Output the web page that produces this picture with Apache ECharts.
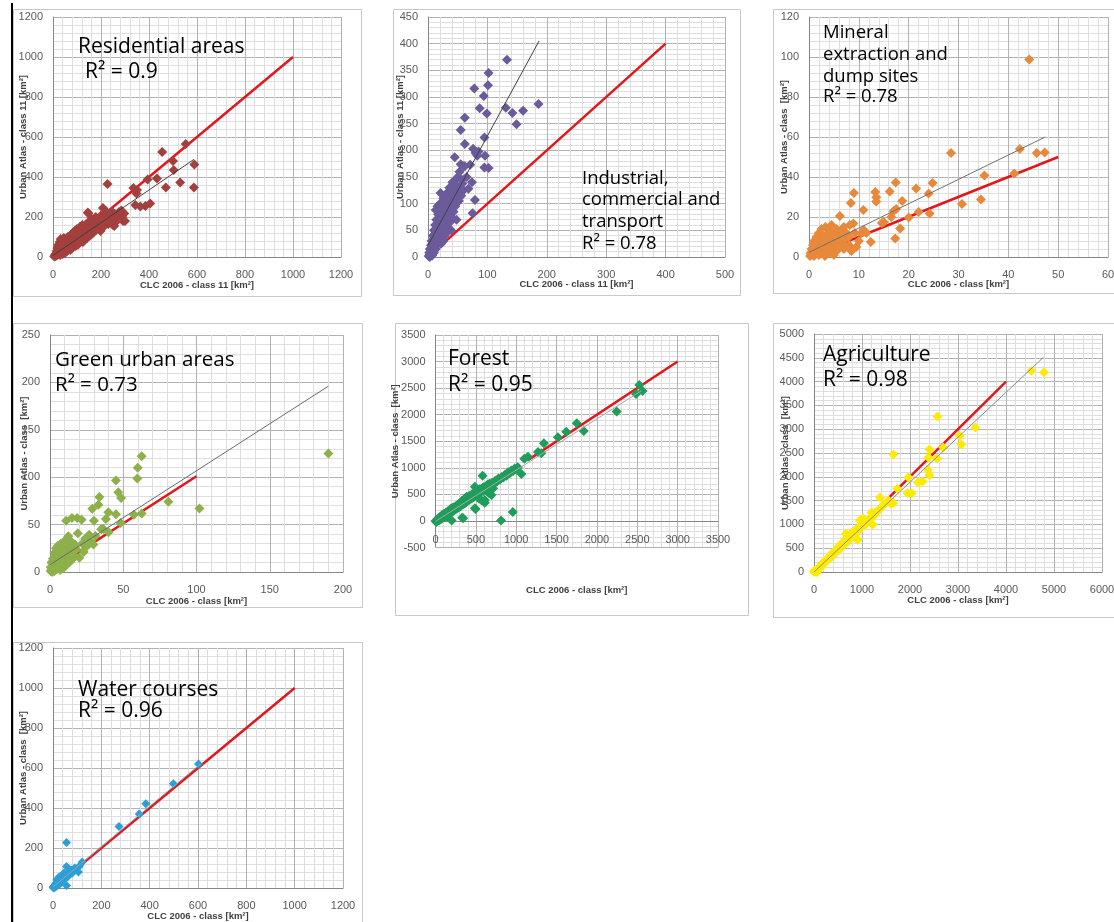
<!DOCTYPE html>
<html><head><meta charset="utf-8">
<script src="https://cdn.jsdelivr.net/npm/echarts@6/dist/echarts.min.js"></script>
<style>html,body{margin:0;padding:0;background:#fff}#c{width:1114px;height:922px}</style>
</head><body><div id="c"></div>
<script>
// ---------------- DATA ----------------
const panelTitles = [
  ['Residential areas'],
  ['Industrial,', 'commercial and', 'transport'],
  ['Mineral', 'extraction and', 'dump sites'],
  ['Green urban areas'],
  ['Forest'],
  ['Agriculture'],
  ['Water courses']
];
const r2Values = ['0.9', '0.78', '0.78', '0.73', '0.95', '0.98', '0.96'];
const xNames = ['CLC 2006 - class 11 [km²]', 'CLC 2006 - class 11 [km²]', 'CLC 2006 - class [km²]', 'CLC 2006 - class [km²]', 'CLC 2006 - class [km²]', 'CLC 2006 - class [km²]', 'CLC 2006 - class [km²]'];
const yNames = ['Urban Atlas - class 11 [km²]', 'Urban Atlas - class 11 [km²]', 'Urban Atlas - class  [km²]', 'Urban Atlas - class  [km²]', 'Urban Atlas - class  [km²]', 'Urban Atlas - class  [km²]', 'Urban Atlas - class  [km²]'];
// [min, max, interval]
const xTicks = [[0, 1200, 200], [0, 500, 100], [0, 60, 10], [0, 200, 50], [0, 3500, 500], [0, 6000, 1000], [0, 1200, 200]];
const yTicks = [[0, 1200, 200], [0, 450, 50], [0, 120, 20], [0, 250, 50], [-500, 3500, 500], [0, 5000, 500], [0, 1200, 200]];

const residential = [[5,3],[8,10],[10,5],[12,18],[15,8],[15,30],[18,45],[20,12],[20,25],[22,60],[25,18],[25,40],[28,75],[30,10],[30,30],[30,55],[32,90],[35,22],[35,45],[38,65],[40,15],[40,35],[40,80],[42,55],[45,28],[45,95],[48,42],[50,20],[50,60],[50,75],[52,35],[55,50],[55,88],[58,30],[60,45],[60,70],[62,100],[65,40],[65,58],[68,80],[70,50],[70,92],[72,35],[75,65],[75,110],[78,55],[80,45],[80,85],[82,120],[85,70],[88,60],[90,95],[90,130],[92,75],[95,55],[95,110],[98,85],[100,70],[100,140],[102,100],[105,62],[105,120],[108,90],[110,78],[112,150],[115,105],[118,85],[120,130],[120,95],[122,160],[125,75],[125,115],[128,140],[130,100],[132,88],[135,125],[138,165],[140,110],[142,95],[145,140],[148,218],[145,223],[150,120],[150,175],[152,105],[155,150],[158,130],[160,190],[162,115],[165,160],[168,140],[170,125],[172,180],[175,150],[178,200],[180,135],[182,170],[185,155],[188,190],[190,145],[195,175],[198,130],[200,160],[202,210],[205,185],[208,245],[210,150],[215,200],[218,175],[220,230],[225,195],[227,365],[230,165],[232,215],[238,185],[240,205],[245,228],[250,160],[253,190],[255,155],[258,215],[262,175],[268,210],[275,225],[280,195],[285,232],[288,200],[292,180],[297,218],[300,180],[335,345],[343,260],[350,335],[348,318],[364,252],[385,255],[394,388],[405,268],[433,393],[455,525],[470,348],[500,480],[503,435],[530,373],[553,565],[587,348],[589,463]];

const industrial = [[1,2],[2,8],[3,0],[3,15],[4,5],[5,22],[5,10],[6,30],[7,3],[7,18],[8,40],[8,12],[9,25],[10,50],[10,8],[10,33],[11,20],[12,60],[12,42],[13,15],[13,88],[14,30],[14,70],[15,52],[15,22],[16,95],[16,40],[17,80],[17,62],[18,28],[18,48],[19,90],[20,35],[20,70],[20,100],[21,120],[22,55],[22,25],[23,82],[24,45],[24,65],[25,92],[26,30],[26,110],[27,55],[28,75],[28,40],[29,100],[30,62],[30,85],[31,45],[32,120],[32,70],[33,95],[34,55],[35,80],[35,105],[36,130],[37,65],[38,90],[38,115],[39,50],[40,100],[40,75],[41,140],[42,120],[43,85],[44,105],[45,187],[45,135],[46,95],[47,145],[48,115],[48,70],[50,125],[50,150],[52,105],[53,160],[54,130],[55,174],[55,238],[56,115],[57,145],[58,138],[60,125],[60,170],[62,261],[62,212],[62,170],[65,150],[68,128],[71,173],[74,140],[75,82],[76,203],[78,316],[79,107],[80,195],[83,190],[85,198],[87,279],[94,302],[95,224],[95,168],[96,190],[99,269],[101,322],[102,345],[102,167],[131,280],[133,370],[142,270],[149,249],[160,274],[186,287]];

const mineral = [[0.2,0.5],[0.3,2],[0.5,4],[0.5,1],[0.8,6],[1,0.5],[1,3],[1,8],[1.2,5],[1.5,2],[1.5,10],[1.8,6],[2,1],[2,4],[2,12],[2.2,8],[2.5,2],[2.5,14],[2.8,6],[3,3],[3,10],[3.2,0.5],[3.3,15],[3.5,5],[3.5,8],[3.8,12],[4,2],[4,6],[4,14],[4.2,10],[4.5,4],[4.5,16],[4.8,8],[5,1],[5,12],[5.2,6],[5.5,3],[5.5,14],[5.8,9],[6,5],[6,11],[6.2,20.5],[6.5,7],[6.5,13],[7,4],[7,15],[7.2,9],[7.5,12],[8,6],[8,10],[8.2,16],[8.4,27],[8.5,3],[9,32],[8.9,16.8],[9.2,12],[9.5,5],[10,8],[10.5,12],[10.9,23.5],[11,13.5],[11.5,12],[12.4,7.5],[13.3,32.5],[13.5,27.7],[13.5,29.9],[14.6,17],[15,17.5],[16.2,32.7],[16.5,20],[17,23],[17.3,9.2],[17.4,37.3],[17.5,24],[18.3,14.3],[18.7,28],[20,19.8],[21.5,34.3],[22,22.5],[24,31.8],[24.2,21.8],[24.8,37],[28.5,52],[30.7,26.5],[34.5,28.8],[35.2,40.7],[41.2,41.7],[42.3,54],[44.2,98.8],[45.7,52],[47.3,52.3]];

const greenUrban = [[0.5,1],[0.5,5],[1,2],[1,10],[1.5,0],[2,4],[2,14],[2.5,7],[3,1],[3,10],[3,20],[3.5,5],[4,15],[4,25],[4.5,3],[5,8],[5,18],[5.5,28],[6,5],[6,12],[6.5,22],[7,2],[7,16],[7.5,30],[8,9],[8,20],[8.5,13],[9,25],[9,4],[9.5,32],[10,11],[10,18],[10.5,27],[11,7],[11,22],[11,54],[11.5,35],[12,14],[12.5,37.6],[12,28],[13,10],[13,20],[14,25],[14,33],[15,13],[15,57],[16,18],[17,29],[18,24],[18.5,57],[19,41],[20,15],[21.6,55],[22,30],[23,21],[24,35],[25,27],[26.8,39.4],[28,32],[28.9,66.6],[29.6,28.9],[30,54],[31,38],[33,71],[33.7,79],[35,45],[36.4,45.4],[38.2,56],[39.8,63],[40,42],[45,61],[45,96.5],[46.6,84],[48.2,51.8],[48.5,78],[57.3,60.5],[59.6,98.6],[59.9,110],[62.6,122],[62.6,61.6],[80.8,74],[102,67],[190,125]];

const forest = [[0,0],[10,-20],[20,30],[30,10],[40,60],[50,20],[60,80],[70,40],[80,110],[90,60],[100,130],[110,70],[120,100],[130,160],[140,90],[150,180],[160,120],[170,200],[180,140],[190,230],[200,10],[200,170],[210,250],[220,190],[230,260],[240,210],[250,280],[260,230],[270,300],[280,250],[290,320],[300,270],[310,350],[320,290],[331,62],[330,380],[343,51],[340,310],[350,400],[360,330],[370,420],[385,458],[380,360],[390,440],[400,380],[410,460],[420,400],[430,480],[440,420],[450,500],[460,440],[470,520],[480,460],[488,646],[488,239],[490,540],[496,226],[500,480],[510,560],[520,500],[530,580],[540,420],[550,600],[560,540],[570,390],[580,620],[583,853],[590,560],[600,640],[611,345],[611,395],[620,600],[630,660],[640,560],[650,690],[660,640],[664,521],[670,700],[680,650],[694,490],[714,616],[700,720],[720,700],[740,760],[760,740],[780,800],[800,780],[812,10],[820,830],[840,820],[860,870],[880,850],[900,920],[920,900],[940,950],[958,170],[960,940],[980,990],[1000,970],[1020,1010],[1064,885],[1100,1170],[1146,1211],[1270,1300],[1311,1275],[1343,1463],[1516,1576],[1620,1682],[1751,1840],[1837,1695],[2245,2059],[2484,2392],[2525,2561],[2566,2448]];

const agriculture = [[0,0],[10,30],[20,-10],[30,20],[50,40],[60,0],[80,70],[100,90],[120,110],[140,100],[160,170],[180,150],[200,210],[220,190],[250,240],[270,280],[300,260],[320,330],[350,310],[380,400],[400,360],[420,430],[450,420],[480,500],[500,450],[520,540],[550,500],[580,600],[600,560],[630,650],[663,803],[650,600],[680,700],[700,640],[720,760],[750,700],[780,820],[800,740],[830,860],[860,800],[880,900],[908,678],[920,860],[956,1083],[960,940],[1000,1000],[1020,1130],[1050,980],[1080,1060],[1100,1040],[1150,1120],[1200,1251],[1220,1000],[1250,1180],[1300,1270],[1350,1300],[1375,1566],[1400,1350],[1450,1420],[1500,1450],[1550,1500],[1600,1440],[1653,1448],[1653,2468],[1737,1748],[1946,1660],[1966,1985],[2037,1657],[2165,1880],[2260,1901],[2370,2150],[2385,2405],[2406,2035],[2406,2573],[2560,2384],[2573,3265],[2692,2615],[3034,2860],[3069,2677],[3362,3034],[4527,4230],[4791,4196]];

const water = [[0,5],[2,0],[5,10],[8,2],[10,20],[12,8],[14,25],[15,40],[18,12],[20,30],[22,48],[25,55],[28,20],[30,40],[35,60],[40,35],[43,57],[45,75],[50,50],[56,12],[56,108],[56,228],[60,55],[65,80],[70,70],[75,90],[80,75],[90,100],[105,80],[110,110],[121,130],[273,308],[357,370],[384,421],[498,521],[602,620]];

// 1:1 reference lines (red) and fitted trend lines (thin grey), as [start, end]
const refLines = [[[170,170],[1000,1000]], [[28,28],[400,400]], [[7.4,7.5],[50,50]], [[11.5,13],[100,101]], [[1150,1150],[3000,3000]], [[1550,1550],[4000,4000]], [[115,115],[1000,1000]]];
const trendLines = [[[0,8],[587,488]], [[0,22],[187,405]], [[0,2.3],[47.4,60]], [[0,7.7],[190,196]], [[0,-5],[2550,2450]], [[0,0],[4780,4510]], [[0,5],[610,620]]];

const pointSets = [residential, industrial, mineral, greenUrban, forest, agriculture, water];
const colors = ['#A3403E', '#6C5B9B', '#E8883A', '#8DB04A', '#1F9D5A', '#FFEA00', '#2D9FD6'];

// ---------------- LAYOUT ----------------
// labelMargin: distance of x tick labels below the plot bottom (negative in Forest, where labels sit at y = 0)
const L = [
  {g:[53,17,288,240],  yGap:25,  xGap:23, lm:12, sym:10, tx:[78,85],  ty:[47,72], fs:21, box:[13,9,348,287],  trendColor:'#404040'},
  {g:[428,17,297,240], yGap:23,  xGap:22, lm:12, sym:10, tx:[582,582], ty:[178.5,200,221.5,243.5], fs:18.5, box:[393,9,347,286], trendColor:'#404040'},
  {g:[809,17,299,240], yGap:20,  xGap:22, lm:12, sym:10, tx:[823,823], ty:[33,55,76.5,97], fs:18.5, box:[773,9,360,284], trendColor:'#707070'},
  {g:[50,335,293,237], yGap:21,  xGap:24, lm:12, sym:10, tx:[55,55],  ty:[360,385], fs:20.5, box:[13,323,349,284], trendColor:'#6A6A6A'},
  {g:[435.5,335,282.5,212.6], yGap:35, xGap:37.5, lm:-13, sym:10, tx:[448,448], ty:[359.5,385], fs:21, box:[395,323,353,292], trendColor:'#A8A8A8'},
  {g:[814,334,288,238], yGap:24, xGap:23, lm:12, sym:10, tx:[823,823], ty:[355.5,380.5], fs:21, box:[773,323,360,294], trendColor:'#8C8C8C'},
  {g:[53,648,290,240], yGap:25, xGap:23, lm:12, sym:9, tx:[78,78], ty:[690,711], fs:21, box:[13,642,349,300], trendColor:'#8FA6AE'}
];

const grids = [], xAxes = [], yAxes = [], series = [], graphics = [];
const labelStyle = {color:'#595959', fontSize:11, fontFamily:'Liberation Sans', formatter: v => String(v)};
const nameStyle = {color:'#404040', fontSize:9.5, fontWeight:'bold', fontFamily:'Liberation Sans'};

L.forEach((p, i) => {
  const negY = yTicks[i][0] < 0;
  graphics.push({type:'rect', silent:true, z:-10, shape:{x:p.box[0]+0.5, y:p.box[1]+0.5, width:p.box[2], height:p.box[3]}, style:{fill:'#fff', stroke:'#C8C8C8', lineWidth:1}});
  grids.push({left:p.g[0], top:p.g[1], width:p.g[2], height:p.g[3], containLabel:false, outerBoundsMode:'none'});
  const common = (t) => ({
    gridIndex:i, type:'value', min:t[0], max:t[1], interval:t[2],
    axisTick:{show:false},
    splitLine:{show:true, lineStyle:{color:'#B2B2B2', width:1}},
    minorTick:{show:false, splitNumber:5},
    minorSplitLine:{show:true, lineStyle:{color:'#DEDEDE', width:1}},
    nameLocation:'middle', nameMoveOverlap:false, nameTextStyle:nameStyle
  });
  xAxes.push(Object.assign(common(xTicks[i]), {name:xNames[i], nameGap:p.xGap,
    axisLine:{show:true, onZero:false, lineStyle:{color: negY ? '#B2B2B2' : '#868686', width:1}},
    axisLabel:Object.assign({margin:p.lm, showMinLabel:true, showMaxLabel:true}, labelStyle)}));
  yAxes.push(Object.assign(common(yTicks[i]), {name:yNames[i], nameGap:p.yGap,
    axisLine:{show:true, onZero:false, lineStyle:{color:'#868686', width:1}},
    axisLabel:Object.assign({margin:10, showMinLabel:true, showMaxLabel:true}, labelStyle)}));
  series.push({type:'line', xAxisIndex:i, yAxisIndex:i, data:refLines[i], showSymbol:false, symbol:'none', silent:true, z:2, lineStyle:{color:'#E3161B', width:2.5}});
  const sc = {type:'scatter', xAxisIndex:i, yAxisIndex:i, data:pointSets[i], symbol:'diamond', symbolSize:p.sym, z:3, itemStyle:{color:colors[i], opacity:1}};
  if (negY) {
    sc.markLine = {silent:true, symbol:'none', z:1, label:{show:false}, lineStyle:{color:'#868686', type:'solid', width:1}, data:[{yAxis:0}]};
  }
  series.push(sc);
  series.push({type:'line', xAxisIndex:i, yAxisIndex:i, data:trendLines[i], showSymbol:false, symbol:'none', silent:true, z:4, lineStyle:{color:p.trendColor, width:1}});
  const lines = panelTitles[i].concat(['R² = ' + r2Values[i]]);
  lines.forEach((txt, k) => {
    const x = k === lines.length - 1 ? p.tx[1] : p.tx[0];
    graphics.push({type:'text', silent:true, z:100, x:x, y:p.ty[k], style:{text:txt, fill:'#000', fontSize:p.fs, fontFamily:'Open Sans', verticalAlign:'middle', align:'left'}});
  });
});
graphics.push({type:'rect', silent:true, z:101, shape:{x:11, y:3, width:2, height:919}, style:{fill:'#000'}});

const chart = echarts.init(document.getElementById('c'), null, {renderer:'canvas'});
chart.setOption({
  backgroundColor:'#ffffff',
  animation:false,
  grid:grids, xAxis:xAxes, yAxis:yAxes, series:series, graphic:graphics
});
</script>
</body></html>
